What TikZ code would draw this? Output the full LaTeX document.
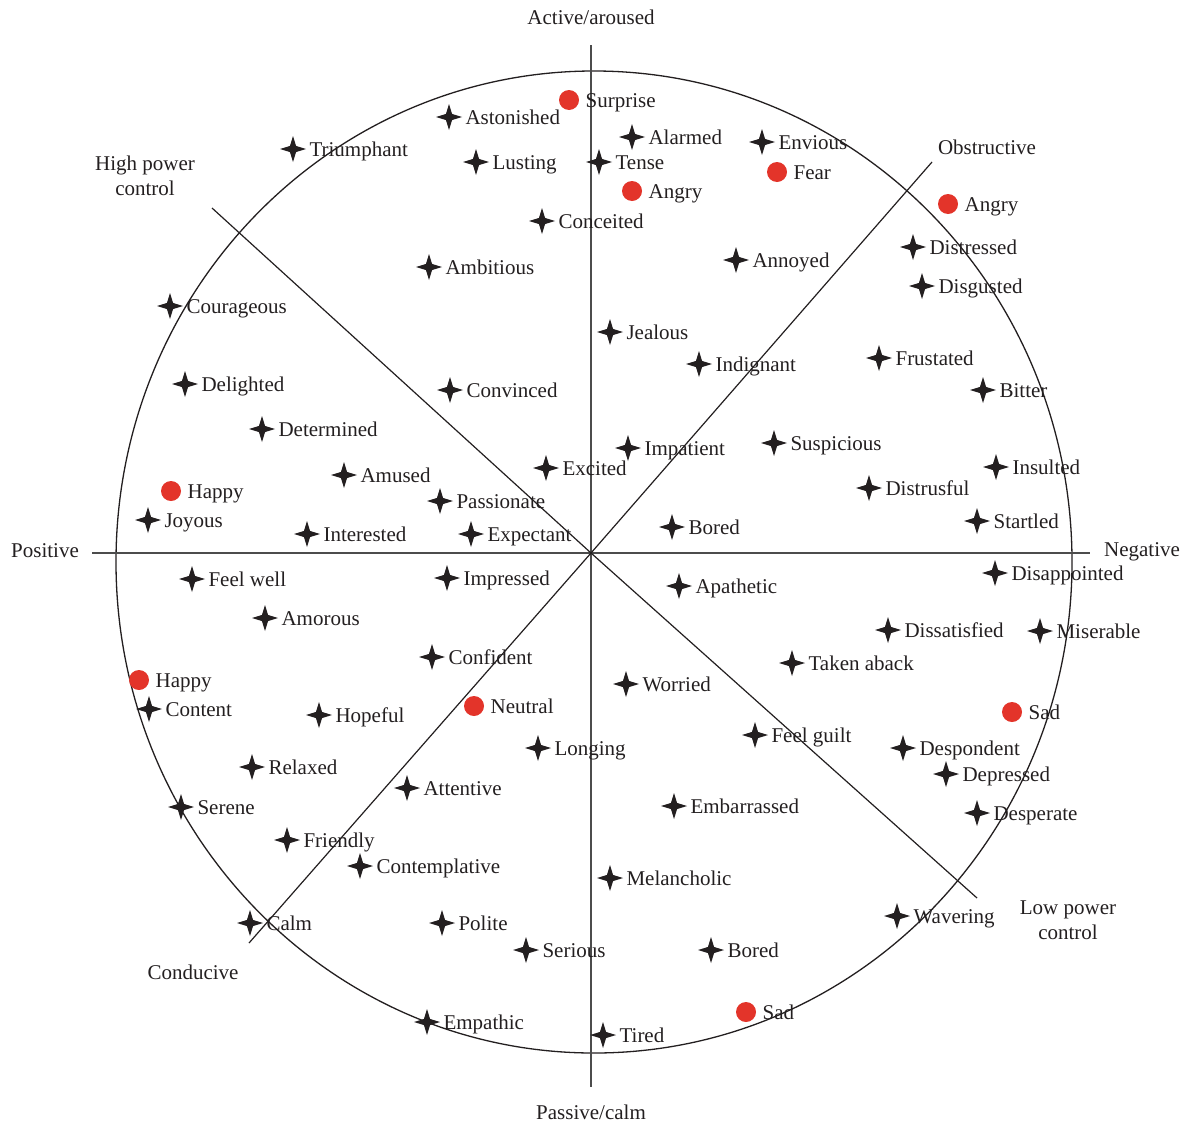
\documentclass[tikz,border=0pt]{standalone}
\usepackage{fontspec}
\setmainfont{Liberation Serif}
\usetikzlibrary{shapes.geometric}
\definecolor{ink}{HTML}{231F20}
\definecolor{dotred}{HTML}{E3342A}

\begin{document}
\begin{tikzpicture}[x=0.5pt,y=-0.5pt,font=\fontsize{10.5}{12.5}\selectfont,
	emo/.style={star,star points=4,star point ratio=3,minimum size=13pt,inner sep=0pt,fill=ink},
	dot/.style={circle,minimum size=10pt,inner sep=0pt,fill=dotred},
	lbl/.style={inner sep=0pt,text height=7pt,text depth=0pt,text=ink,xshift=0.9pt},
	dlbl/.style={lbl,xshift=2pt},
	ttl/.style={inner sep=0pt,align=center,text=ink},
	axis/.style={line width=0.75pt,draw=black!70},
	sector/.style={line width=0.6pt,draw=ink}]
					\useasboundingbox (0,0) rectangle (1186,1124);
					\coordinate (O) at (591,553);
					\coordinate (N) at (591,45);
					\coordinate (S) at (591,1087);
					\coordinate (W) at (92,553);
					\coordinate (E) at (1090,553);
					\coordinate (NE) at (932,162);
					\coordinate (SW) at (249,943);
					\coordinate (NW) at (212,208);
					\coordinate (SE) at (977,898);
					\draw[line width=0.65pt,ink] (594,562) ellipse [x radius=478, y radius=491];
					\draw[axis] (N) -- (S);
					\draw[axis] (W) -- (E);
					\draw[sector] (NE) -- (O) -- (SW);
					\draw[sector] (NW) -- (O) -- (SE);

					\node[ttl] (active) at (591,17) {Active/aroused};
					\node[ttl] (passive) at (591,1112) {Passive/calm};
					\node[ttl] (positive) at (45,551) {Positive};
					\node[ttl] (negative) at (1142,552) {Negative};
					\node[ttl] (highpower) at (145,176) {High power\\control};
					\node[ttl] (obstructive) at (987,147) {Obstructive};
					\node[ttl] (lowpower) at (1068,920) {Low power\\control};
					\node[ttl] (conducive) at (193,972) {Conducive};

					\node[dot,label={[dlbl]right:Surprise}] (surprise) at (569,100) {};
					\node[dot,label={[dlbl]right:Angry}] (angryA) at (632,191) {};
					\node[dot,label={[dlbl]right:Fear}] (fear) at (777,172) {};
					\node[dot,label={[dlbl]right:Angry}] (angryB) at (948,204) {};
					\node[dot,label={[dlbl]right:Happy}] (happyA) at (171,491) {};
					\node[dot,label={[dlbl]right:Happy}] (happyB) at (139,680) {};
					\node[dot,label={[dlbl]right:Neutral}] (neutral) at (474,706) {};
					\node[dot,label={[dlbl]right:Sad}] (sadA) at (1012,712) {};
					\node[dot,label={[dlbl]right:Sad}] (sadB) at (746,1012) {};

					\node[emo,label={[lbl]right:Astonished}] (astonished) at (449,117) {};
					\node[emo,label={[lbl]right:Triumphant}] (triumphant) at (293,149) {};
					\node[emo,label={[lbl]right:Lusting}] (lusting) at (476,162) {};
					\node[emo,label={[lbl]right:Alarmed}] (alarmed) at (632,137) {};
					\node[emo,label={[lbl]right:Tense}] (tense) at (599,162) {};
					\node[emo,label={[lbl]right:Conceited}] (conceited) at (542,221) {};
					\node[emo,label={[lbl]right:Envious}] (envious) at (762,142) {};
					\node[emo,label={[lbl]right:Distressed}] (distressed) at (913,247) {};
					\node[emo,label={[lbl]right:Disgusted}] (disgusted) at (922,286) {};
					\node[emo,label={[lbl]right:Annoyed}] (annoyed) at (736,260) {};
					\node[emo,label={[lbl]right:Ambitious}] (ambitious) at (429,267) {};
					\node[emo,label={[lbl]right:Courageous}] (courageous) at (170,306) {};
					\node[emo,label={[lbl]right:Jealous}] (jealous) at (610,332) {};
					\node[emo,label={[lbl]right:Indignant}] (indignant) at (699,364) {};
					\node[emo,label={[lbl]right:Frustated}] (frustated) at (879,358) {};
					\node[emo,label={[lbl]right:Bitter}] (bitter) at (983,390) {};
					\node[emo,label={[lbl]right:Delighted}] (delighted) at (185,384) {};
					\node[emo,label={[lbl]right:Convinced}] (convinced) at (450,390) {};
					\node[emo,label={[lbl]right:Determined}] (determined) at (262,429) {};
					\node[emo,label={[lbl]right:Impatient}] (impatient) at (628,448) {};
					\node[emo,label={[lbl]right:Suspicious}] (suspicious) at (774,443) {};
					\node[emo,label={[lbl]right:Amused}] (amused) at (344,475) {};
					\node[emo,label={[lbl]right:Excited}] (excited) at (546,468) {};
					\node[emo,label={[lbl]right:Insulted}] (insulted) at (996,467) {};
					\node[emo,label={[lbl]right:Distrusful}] (distrusful) at (869,488) {};
					\node[emo,label={[lbl]right:Passionate}] (passionate) at (440,501) {};
					\node[emo,label={[lbl]right:Joyous}] (joyous) at (148,520) {};
					\node[emo,label={[lbl]right:Interested}] (interested) at (307,534) {};
					\node[emo,label={[lbl]right:Expectant}] (expectant) at (471,534) {};
					\node[emo,label={[lbl]right:Bored}] (boredA) at (672,527) {};
					\node[emo,label={[lbl]right:Startled}] (startled) at (977,521) {};
					\node[emo,label={[lbl]right:Feel well}] (feelwell) at (192,579) {};
					\node[emo,label={[lbl]right:Impressed}] (impressed) at (447,578) {};
					\node[emo,label={[lbl]right:Apathetic}] (apathetic) at (679,586) {};
					\node[emo,label={[lbl]right:Disappointed}] (disappointed) at (995,573) {};
					\node[emo,label={[lbl]right:Amorous}] (amorous) at (265,618) {};
					\node[emo,label={[lbl]right:Dissatisfied}] (dissatisfied) at (888,630) {};
					\node[emo,label={[lbl]right:Miserable}] (miserable) at (1040,631) {};
					\node[emo,label={[lbl]right:Confident}] (confident) at (432,657) {};
					\node[emo,label={[lbl]right:Taken aback}] (takenaback) at (792,663) {};
					\node[emo,label={[lbl]right:Worried}] (worried) at (626,684) {};
					\node[emo,label={[lbl]right:Content}] (content) at (149,709) {};
					\node[emo,label={[lbl]right:Hopeful}] (hopeful) at (319,715) {};
					\node[emo,label={[lbl]right:Feel guilt}] (feelguilt) at (755,735) {};
					\node[emo,label={[lbl]right:Longing}] (longing) at (538,748) {};
					\node[emo,label={[lbl]right:Despondent}] (despondent) at (903,748) {};
					\node[emo,label={[lbl]right:Depressed}] (depressed) at (946,774) {};
					\node[emo,label={[lbl]right:Relaxed}] (relaxed) at (252,767) {};
					\node[emo,label={[lbl]right:Attentive}] (attentive) at (407,788) {};
					\node[emo,label={[lbl]right:Embarrassed}] (embarrassed) at (674,806) {};
					\node[emo,label={[lbl]right:Serene}] (serene) at (181,807) {};
					\node[emo,label={[lbl]right:Desperate}] (desperate) at (977,813) {};
					\node[emo,label={[lbl]right:Friendly}] (friendly) at (287,840) {};
					\node[emo,label={[lbl]right:Contemplative}] (contemplative) at (360,866) {};
					\node[emo,label={[lbl]right:Melancholic}] (melancholic) at (610,878) {};
					\node[emo,label={[lbl]right:Wavering}] (wavering) at (897,916) {};
					\node[emo,label={[lbl]right:Calm}] (calm) at (250,923) {};
					\node[emo,label={[lbl]right:Polite}] (polite) at (442,923) {};
					\node[emo,label={[lbl]right:Serious}] (serious) at (526,950) {};
					\node[emo,label={[lbl]right:Bored}] (boredB) at (711,950) {};
					\node[emo,label={[lbl]right:Empathic}] (empathic) at (427,1022) {};
					\node[emo,label={[lbl]right:Tired}] (tired) at (603,1035) {};
				  \end{tikzpicture}
\end{document}
